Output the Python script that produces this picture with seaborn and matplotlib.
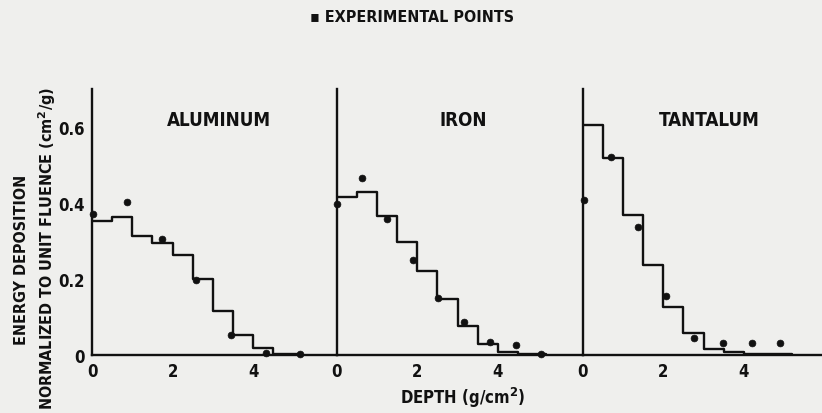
import numpy as np
import pandas as pd
import matplotlib
matplotlib.use("Agg")
import matplotlib.pyplot as plt
import seaborn as sns

# ---- data ----
bin_edges = [0.0, 0.5, 1.0, 1.5, 2.0, 2.5, 3.0, 3.5, 4.0, 4.5, 5.0, 5.2]

al_calc = [0.353, 0.364, 0.314, 0.294, 0.263, 0.200, 0.116, 0.053, 0.019, 0.003, 0.003]
fe_calc = [0.417, 0.428, 0.366, 0.297, 0.221, 0.147, 0.077, 0.028, 0.009, 0.003, 0.003]
ta_calc = [0.604, 0.518, 0.368, 0.237, 0.126, 0.057, 0.016, 0.007, 0.003, 0.003, 0.003]

al_px = [0.03, 0.88, 1.73, 2.58, 3.44, 4.31, 5.16]
al_py = [0.370, 0.403, 0.304, 0.197, 0.053, 0.004, 0.003]
fe_px = [0.00, 0.63, 1.26, 1.90, 2.52, 3.16, 3.81, 4.44, 5.06]
fe_py = [0.397, 0.467, 0.358, 0.250, 0.149, 0.086, 0.033, 0.026, 0.003]
ta_px = [0.02, 0.70, 1.38, 2.06, 2.77, 3.49, 4.20, 4.90]
ta_py = [0.408, 0.521, 0.336, 0.154, 0.044, 0.031, 0.031, 0.031]

materials = ["ALUMINUM", "IRON", "TANTALUM"]
y_ticks = [0, 0.2, 0.4, 0.6]
y_tick_labels = ["0", "0.2", "0.4", "0.6"]
x_ticks = [0, 2, 4]

# ---- style ----
sns.set_style("white")
ink = "#111111"
bg = "#efefed"
plt.rcParams["font.family"] = ["DejaVu Sans"]
fkw = dict(fontweight="bold", color=ink, fontstretch="condensed")

W, H = 822, 414
fig = plt.figure(figsize=(W / 100, H / 100), dpi=100, facecolor=bg)

px_per_unit = 40.3
lefts = [92, 336.7, 582.7]
rights = [336.7, 582.7, 822]
y0_px = 356   # pixel row of y=0 from top
ytop = 0.70
axh_px = ytop * 380

calc = [al_calc, fe_calc, ta_calc]
pts = [(al_px, al_py), (fe_px, fe_py), (ta_px, ta_py)]

for i, name in enumerate(materials):
    l, r = lefts[i], rights[i]
    ax = fig.add_axes([l / W, (H - y0_px) / H, (r - l) / W, axh_px / H])
    ax.set_facecolor(bg)
    vals = calc[i] + [calc[i][-1]]
    df = pd.DataFrame({"x": bin_edges, "y": vals})
    sns.lineplot(data=df, x="x", y="y", ax=ax, drawstyle="steps-post",
                 color=ink, linewidth=1.7, estimator=None, sort=False)
    dp = pd.DataFrame({"x": pts[i][0], "y": pts[i][1]})
    sns.scatterplot(data=dp, x="x", y="y", ax=ax, color=ink, s=24,
                    marker="o", edgecolor=ink, linewidth=0.5, zorder=5, clip_on=False)
    ax.set_xlim(0, (r - l) / px_per_unit)
    ax.set_ylim(0, ytop)
    for s in ["top", "right"]:
        ax.spines[s].set_visible(False)
    for s in ["left", "bottom"]:
        ax.spines[s].set_color(ink)
        ax.spines[s].set_linewidth(1.7)
    ax.set_xticks(x_ticks)
    ax.set_xticklabels([str(t) for t in x_ticks], fontsize=12, **fkw)
    ax.set_yticks(y_ticks)
    if i == 0:
        ax.set_yticklabels(y_tick_labels, fontsize=12, **fkw)
    else:
        ax.set_yticklabels([])
    ax.tick_params(axis="both", direction="in", length=6, width=1.4, color=ink, pad=5)
    ax.set_xlabel("")
    ax.set_ylabel("")
    ax.text(3.15, 0.62, name, ha="center", va="center", fontsize=13.5, **fkw)

fig.text(412 / W, 1 - 17 / H, "\u25aa EXPERIMENTAL POINTS", ha="center", va="center",
         fontsize=11.5, **fkw)
fig.text(463 / W, 1 - 398 / H, "DEPTH (g/cm$^{\\mathbf{2}}$)", ha="center", va="center",
         fontsize=12, **fkw)
fig.text(22 / W, 1 - 260 / H, "ENERGY DEPOSITION", rotation=90, ha="center", va="center",
         fontsize=11.5, **fkw)
fig.text(47 / W, 1 - 248 / H, "NORMALIZED TO UNIT FLUENCE (cm$^{\\mathbf{2}}$/g)", rotation=90,
         ha="center", va="center", fontsize=11.5, **fkw)

fig.savefig("out.png", dpi=100, facecolor=bg)
